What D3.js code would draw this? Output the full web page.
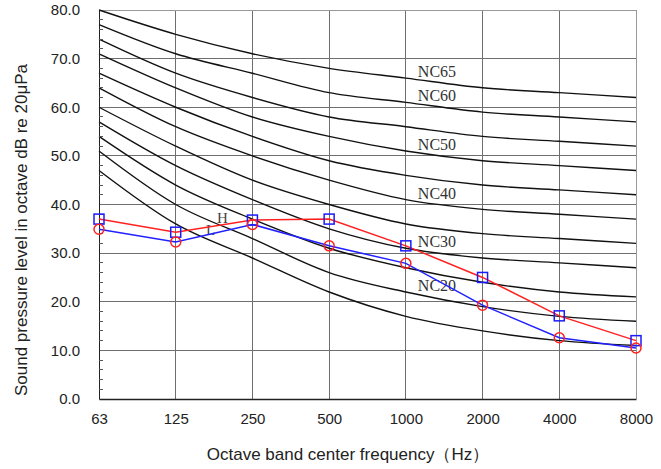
<!DOCTYPE html>
<html><head><meta charset="utf-8">
<script src="https://cdn.jsdelivr.net/npm/d3@7"></script>
<style>body{margin:0;background:#fff}svg{display:block}</style>
</head><body>
<script>
const categories = ["63","125","250","500","1000","2000","4000","8000"];
const yTicks = [0,10,20,30,40,50,60,70,80];
const ncLevels = [15,20,25,30,35,40,45,50,55,60,65];
const nc15 = [47,36,29,22,17,14,12,11];
const nc20 = [51,40,33,26,22,19,17,16];
const nc25 = [54,44,37,31,27,24,22,21];
const nc30 = [57,48,41,35,31,29,28,27];
const nc35 = [60,52,45,40,36,34,33,32];
const nc40 = [64,56,50,45,41,39,38,37];
const nc45 = [67,60,54,49,46,44,43,42];
const nc50 = [71,64,58,54,51,49,48,47];
const nc55 = [74,67,62,58,56,54,53,52];
const nc60 = [77,71,67,63,61,59,58,57];
const nc65 = [80,75,71,68,66,64,63,62];
const ncCurves = [nc15,nc20,nc25,nc30,nc35,nc40,nc45,nc50,nc55,nc60,nc65];
const ncLabeled = ["NC65","NC60","NC50","NC40","NC30","NC20"];
const seriesA = [37.0,34.3,36.8,37.0,31.5,25.0,17.1,12.0]; // red line, blue squares
const seriesB = [34.9,32.3,35.9,31.5,27.9,19.3,12.6,10.5]; // blue line, red circles

const W=661,H=469;
const svg=d3.select("body").append("svg").attr("width",W).attr("height",H);
const x=d3.scalePoint().domain(categories).range([99,636]);
const y=d3.scaleLinear().domain([0,80]).range([399,10]);

// grid
const g=svg.append("g");
g.selectAll(".hg").data(yTicks.filter(v=>v>0&&v<80)).join("line")
 .attr("x1",99).attr("x2",636).attr("y1",d=>y(d)).attr("y2",d=>y(d))
 .attr("stroke","#6e6e6e").attr("stroke-width",1).attr("shape-rendering","crispEdges");
g.selectAll(".vg").data(categories.slice(1,-1)).join("line")
 .attr("x1",d=>x(d)).attr("x2",d=>x(d)).attr("y1",y(80)).attr("y2",y(0))
 .attr("stroke","#6e6e6e").attr("stroke-width",1).attr("shape-rendering","crispEdges");
// top/right border
svg.append("line").attr("x1",99).attr("x2",636).attr("y1",y(80)).attr("y2",y(80)).attr("stroke","#999").attr("shape-rendering","crispEdges");
svg.append("line").attr("x1",636).attr("x2",636).attr("y1",y(80)).attr("y2",y(0)).attr("stroke","#999").attr("shape-rendering","crispEdges");

// NC curves
const line=d3.line().x((d,i)=>x(categories[i])).y(d=>y(d)).curve(d3.curveMonotoneX);
svg.append("g").selectAll("path").data(ncCurves).join("path")
 .attr("d",line).attr("fill","none").attr("stroke","#111").attr("stroke-width",1.4);

// NC labels
const i1000=categories.indexOf("1000");
svg.append("g").selectAll("text").data(ncLabeled).join("text")
 .attr("x",x("1000")+12)
 .attr("y",d=>y(ncCurves[ncLevels.indexOf(+d.slice(2))][i1000])-1)
 .attr("font-family","Liberation Serif, Times New Roman, serif").attr("font-size",16).attr("fill","#333")
 .text(d=>d);
svg.append("text").attr("x",206).attr("y",235).attr("font-family","Liberation Serif, serif").attr("font-size",15).attr("fill","#444").text("L");
svg.append("text").attr("x",217).attr("y",223).attr("font-family","Liberation Serif, serif").attr("font-size",15).attr("fill","#444").text("H");

// axes
const ya=svg.append("g").attr("transform","translate(99,0)")
 .call(d3.axisLeft(y).tickValues(yTicks).tickSize(0).tickPadding(19).tickFormat(d3.format(".1f")));
ya.select(".domain").attr("stroke","#222");
ya.selectAll("text").attr("font-family","Liberation Sans, Arial, sans-serif").attr("font-size",15).attr("fill","#222");
const minor=d3.range(0,81,2).filter(v=>v%10!==0);
svg.append("g").selectAll("line").data(minor).join("line")
 .attr("x1",99).attr("x2",103).attr("y1",d=>y(d)).attr("y2",d=>y(d)).attr("stroke","#555").attr("shape-rendering","crispEdges");
const xa=svg.append("g").attr("transform","translate(0,399)")
 .call(d3.axisBottom(x).tickSize(0).tickPadding(14));
xa.select(".domain").attr("stroke","#222").attr("stroke-width",1.5);
xa.selectAll("text").attr("font-family","Liberation Sans, Arial, sans-serif").attr("font-size",15).attr("fill","#222");

// series
const sl=d3.line().x((d,i)=>x(categories[i])).y(d=>y(d));
svg.append("path").datum(seriesA).attr("d",sl).attr("fill","none").attr("stroke","#ff2020").attr("stroke-width",1.5);
svg.append("path").datum(seriesB).attr("d",sl).attr("fill","none").attr("stroke","#2020ff").attr("stroke-width",1.5);
svg.append("g").selectAll("rect").data(seriesA).join("rect")
 .attr("x",(d,i)=>x(categories[i])-5).attr("y",d=>y(d)-5).attr("width",10).attr("height",10)
 .attr("fill","none").attr("stroke","#1a1aff").attr("stroke-width",1.5);
svg.append("g").selectAll("circle").data(seriesB).join("circle")
 .attr("cx",(d,i)=>x(categories[i])).attr("cy",d=>y(d)).attr("r",5)
 .attr("fill","none").attr("stroke","#ff2020").attr("stroke-width",1.5);

// titles
svg.append("text").attr("x",348).attr("y",460).attr("text-anchor","middle")
 .attr("font-family","Liberation Sans, Arial, sans-serif").attr("font-size",17).attr("fill","#222")
 .text("Octave band center frequency（Hz）");
svg.append("text").attr("transform","translate(27,230) rotate(-90)").attr("text-anchor","middle")
 .attr("font-family","Liberation Sans, Arial, sans-serif").attr("font-size",17).attr("fill","#222")
 .text("Sound pressure level in octave dB re 20μPa");
</script>
</body></html>
